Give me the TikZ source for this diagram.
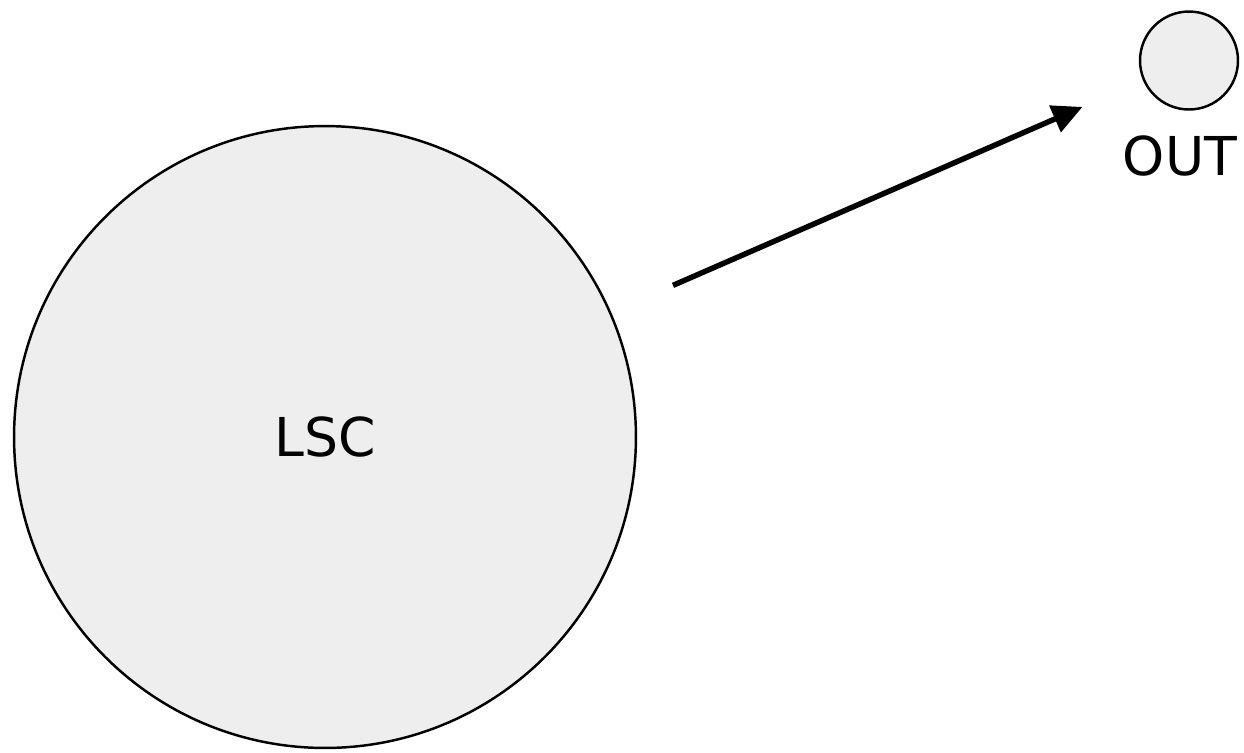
\documentclass[tikz,border=0pt]{standalone}
\usepackage{fontspec}
\setmainfont{DejaVu Sans}
\usetikzlibrary{positioning,arrows.meta}
\definecolor{cellgray}{HTML}{EEEEEE}

\begin{document}
\begin{tikzpicture}[x=0.02cm,y=-0.02cm,
    cell/.style={circle,draw,line width=1.4pt,fill=cellgray,inner sep=0pt},
    flow/.style={-{Triangle[length=0.6cm,width=0.56cm]},line width=3.1pt,shorten >=1.32cm,shorten <=1.35cm}]
    \useasboundingbox (0,0) rectangle (1244,752);
    \node [cell,minimum size=12.44cm,font=\fontsize{30.5}{33}\selectfont] (lsc) at (325,437) {LSC};
    \node [cell,minimum size=1.96cm] (out) at (1189,60.5) {};
    \node [below=0.5cm of out,xshift=-0.18cm,font=\fontsize{30.5}{33}\selectfont,inner sep=0pt] (outlabel) {OUT};

    \draw [flow] (lsc) -- (out);
  \end{tikzpicture}
\end{document}
